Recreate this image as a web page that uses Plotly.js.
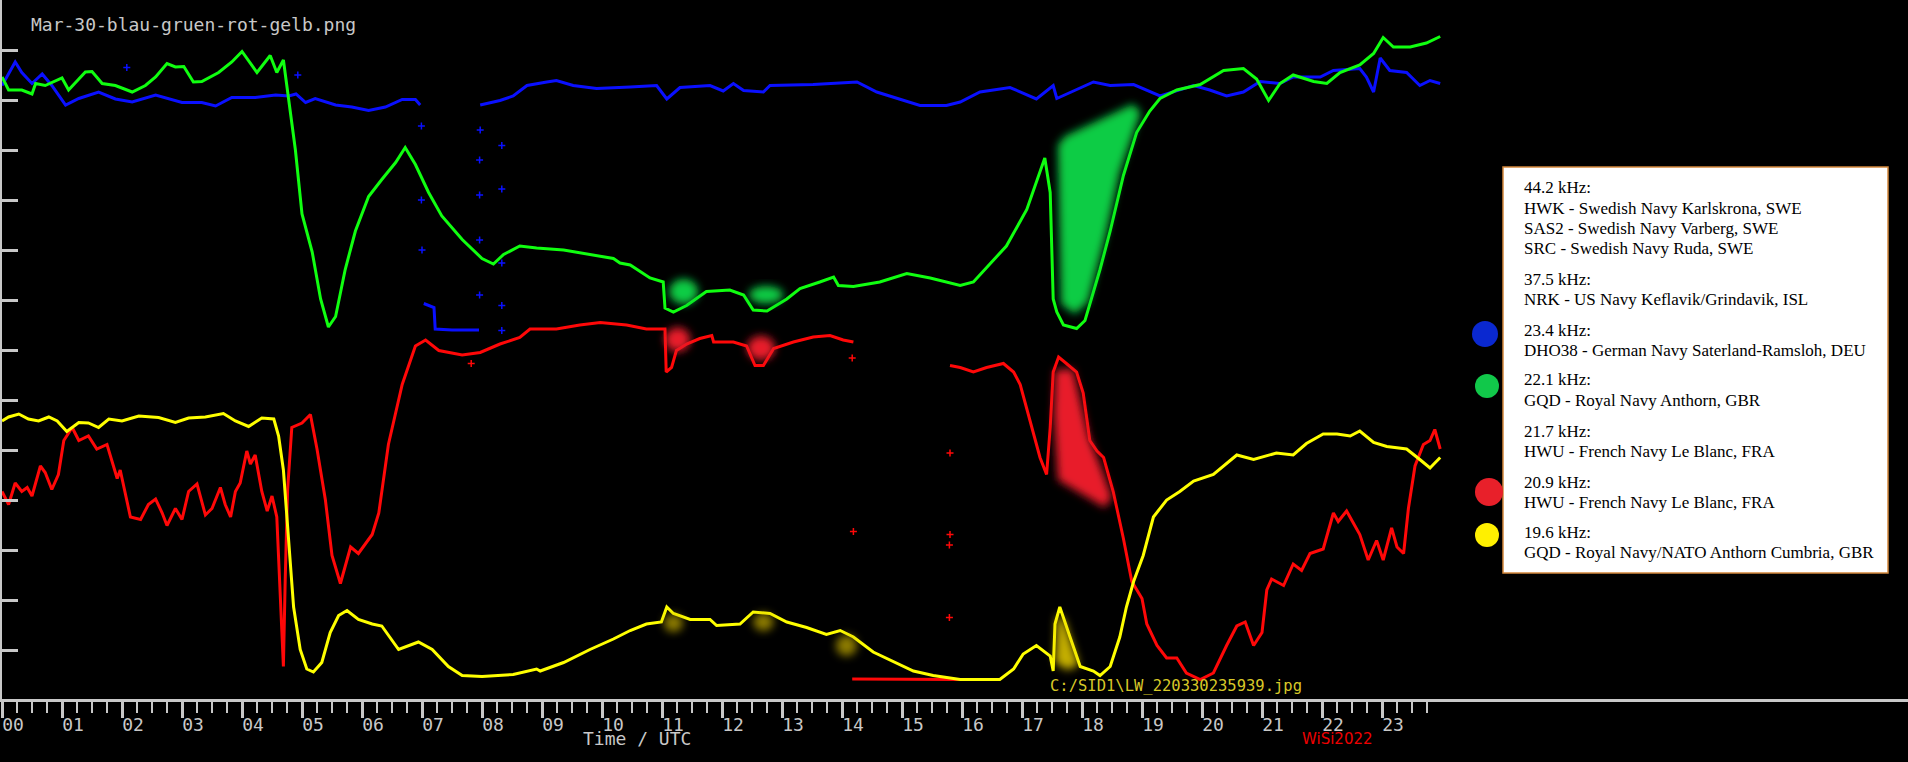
<!DOCTYPE html>
<html><head><meta charset="utf-8">
<script src="https://cdn.plot.ly/plotly-3.0.1.min.js"></script>
<style>html,body{margin:0;padding:0;background:#000;overflow:hidden}</style>
</head><body>
<svg width="0" height="0" style="position:absolute"><defs>
<filter id="blr" x="-40%" y="-40%" width="180%" height="180%"><feGaussianBlur stdDeviation="4"/></filter>
</defs></svg>
<div id="chart" style="width:1908px;height:762px"></div>
<script>
// ---- data (hours UTC, signal level in tick units) ----
const blueX = [0,0.22,0.33,0.5,0.67,0.83,1.06,1.28,1.61,1.89,2.17,2.56,3.0,3.33,3.56,3.83,4.22,4.56,4.78,4.9,5.06,5.22,5.56,5.83,6.11,6.39,6.67,6.89,6.97,null,7.03,7.2,7.22,7.5,7.8,7.95,null,7.97,8.3,8.52,8.75,9.08,9.24,9.52,9.91,10.47,10.91,11.08,11.3,11.8,12.02,12.19,12.36,12.69,12.8,13.52,14.25,14.58,14.91,15.3,15.74,15.97,16.3,16.8,17.24,17.52,17.58,17.91,18.19,18.47,18.86,19.3,19.86,20.13,20.41,20.69,20.97,21.3,21.52,21.97,22.19,22.63,22.74,22.86,22.97,23.13,23.41,23.63,23.8,23.97];
const blueY = [12.29,12.76,12.55,12.33,12.52,12.29,11.90,12.03,12.16,12.02,11.96,12.10,11.95,11.95,11.88,12.05,12.05,12.10,12.08,12.12,11.95,12.03,11.90,11.86,11.79,11.86,12.01,12.01,11.90,null,7.93,7.85,7.42,7.40,7.40,7.40,null,11.90,11.99,12.08,12.29,12.36,12.39,12.29,12.23,12.26,12.29,12.02,12.25,12.29,12.18,12.33,12.19,12.16,12.29,12.31,12.36,12.16,12.03,11.89,11.89,11.96,12.16,12.25,12.02,12.29,12.03,12.20,12.36,12.29,12.31,12.08,12.29,12.20,12.08,12.16,12.37,12.33,12.46,12.46,12.59,12.63,12.46,12.16,12.84,12.59,12.55,12.29,12.39,12.33];

const greenX = [0,0.11,0.33,0.5,0.56,0.72,1.0,1.11,1.39,1.5,1.67,1.89,2.17,2.39,2.56,2.75,2.89,3.03,3.19,3.33,3.61,3.83,4.0,4.25,4.47,4.58,4.69,4.78,4.89,5.0,5.17,5.31,5.44,5.56,5.72,5.89,6.11,6.33,6.56,6.72,6.89,7.11,7.33,7.67,8.0,8.19,8.36,8.63,8.91,9.36,9.8,10.19,10.3,10.47,10.8,11.02,11.05,11.19,11.41,11.74,12.13,12.36,12.52,12.75,13.08,13.3,13.63,13.86,13.94,14.19,14.63,15.08,15.47,15.97,16.19,16.52,16.74,17.08,17.3,17.38,17.47,17.52,17.58,17.69,17.91,18.05,18.3,18.47,18.69,18.91,19.13,19.3,19.58,19.97,20.36,20.69,20.91,21.11,21.3,21.52,21.86,22.08,22.3,22.63,22.86,23.02,23.19,23.47,23.74,23.97];
const greenY = [12.46,12.20,12.20,12.12,12.33,12.29,12.44,12.20,12.56,12.57,12.33,12.29,12.16,12.29,12.46,12.73,12.66,12.67,12.36,12.37,12.55,12.76,12.97,12.55,12.89,12.55,12.80,12.03,11.00,9.72,8.96,8.02,7.46,7.67,8.61,9.38,10.07,10.41,10.75,11.05,10.71,10.15,9.68,9.21,8.83,8.72,8.91,9.08,9.04,9.00,8.91,8.83,8.74,8.70,8.44,8.36,7.84,7.76,7.89,8.17,8.20,8.10,7.80,7.78,8.02,8.23,8.36,8.46,8.29,8.27,8.36,8.53,8.44,8.29,8.36,8.78,9.08,9.81,10.58,10.84,10.15,8.02,7.76,7.50,7.43,7.59,8.61,9.38,10.49,11.35,11.78,12.03,12.20,12.31,12.59,12.63,12.42,11.99,12.33,12.50,12.37,12.33,12.55,12.70,12.93,13.25,13.06,13.06,13.14,13.27];

const redX = [0,0.11,0.22,0.33,0.42,0.5,0.64,0.72,0.83,0.94,1.03,1.17,1.28,1.44,1.58,1.75,1.92,1.97,2.14,2.31,2.44,2.56,2.67,2.75,2.89,3.0,3.11,3.25,3.39,3.5,3.64,3.72,3.81,3.89,3.97,4.08,4.14,4.22,4.33,4.42,4.5,4.58,4.63,4.67,4.69,4.72,4.76,4.83,5.0,5.14,5.25,5.39,5.5,5.64,5.81,5.94,6.06,6.17,6.28,6.44,6.67,6.89,7.06,7.28,7.67,7.97,8.3,8.63,8.8,9.24,9.63,9.97,10.41,10.74,11.05,11.07,11.16,11.24,11.41,11.63,11.83,11.86,12.19,12.41,12.55,12.69,12.86,13.19,13.52,13.8,14.02,14.19,null,14.17,14.6,15.0,15.4,15.97,null,15.8,15.97,16.19,16.41,16.69,16.86,16.97,17.13,17.3,17.41,17.47,17.52,17.61,17.74,17.91,18.02,18.13,18.25,18.36,18.52,18.69,18.83,19.0,19.08,19.25,19.41,19.58,19.74,19.97,20.19,20.41,20.58,20.72,20.86,21.0,21.08,21.16,21.36,21.52,21.66,21.8,22.02,22.19,22.27,22.41,22.63,22.77,22.91,23.02,23.16,23.25,23.36,23.44,23.55,23.69,23.8,23.88,23.97];
const redY = [4.17,3.91,4.34,4.17,4.25,4.08,4.68,4.55,4.21,4.51,5.19,5.45,5.19,5.28,5.02,5.11,4.43,4.60,3.66,3.61,3.91,4.02,3.74,3.49,3.83,3.61,4.17,4.32,3.70,3.83,4.25,3.91,3.66,4.17,4.34,4.98,4.72,4.90,4.17,3.78,4.08,3.66,2.30,1.20,0.67,2.40,4.20,5.45,5.54,5.71,5.02,4.00,2.89,2.33,3.06,2.93,3.14,3.31,3.74,5.11,6.31,7.08,7.20,6.99,6.90,6.95,7.12,7.25,7.42,7.42,7.50,7.55,7.50,7.42,7.42,6.56,6.65,6.99,7.12,7.23,7.29,7.16,7.16,7.08,6.69,6.69,7.03,7.16,7.26,7.29,7.20,7.16,null,0.42,0.42,0.41,0.41,0.41,null,6.69,6.65,6.56,6.65,6.73,6.56,6.31,5.62,4.85,4.51,5.45,6.56,6.86,6.73,6.56,6.14,5.19,4.98,4.85,4.17,3.23,2.37,2.03,1.52,1.09,0.84,0.84,0.54,0.41,0.54,1.09,1.48,1.56,1.09,1.35,2.20,2.42,2.29,2.72,2.59,2.93,3.02,3.74,3.57,3.78,3.31,2.80,3.19,2.80,3.44,3.06,2.93,3.83,4.68,5.11,5.19,5.41,5.02];

const yellowX = [0,0.11,0.28,0.44,0.61,0.78,0.92,1.08,1.28,1.44,1.61,1.78,2.0,2.28,2.61,2.89,3.11,3.39,3.69,3.89,4.11,4.33,4.53,4.61,4.69,4.78,4.86,4.97,5.08,5.19,5.33,5.47,5.61,5.75,5.94,6.17,6.33,6.61,6.78,6.94,7.17,7.44,7.67,8.0,8.52,8.91,8.97,9.36,9.8,10.19,10.47,10.74,10.99,11.08,11.19,11.47,11.8,11.91,12.3,12.52,12.8,13.08,13.41,13.74,13.97,14.19,14.52,14.86,15.19,15.52,15.97,16.63,16.86,17.02,17.24,17.47,17.52,17.55,17.63,17.8,17.97,18.19,18.3,18.47,18.63,18.74,18.86,19.02,19.19,19.41,19.63,19.86,20.19,20.58,20.86,21.24,21.52,21.74,22.02,22.25,22.47,22.63,22.86,23.08,23.41,23.63,23.8,23.97];
const yellowY = [5.58,5.66,5.72,5.62,5.58,5.66,5.58,5.37,5.55,5.54,5.45,5.62,5.58,5.68,5.65,5.55,5.64,5.66,5.73,5.58,5.47,5.64,5.62,5.28,4.60,3.14,1.86,1.01,0.62,0.56,0.75,1.35,1.69,1.79,1.61,1.52,1.48,1.01,1.09,1.16,1.01,0.67,0.49,0.47,0.51,0.62,0.58,0.75,1.01,1.22,1.39,1.52,1.56,1.86,1.73,1.61,1.61,1.49,1.52,1.76,1.73,1.56,1.45,1.31,1.39,1.26,0.96,0.77,0.58,0.49,0.41,0.41,0.62,0.92,1.09,0.88,0.58,1.52,1.86,1.26,0.67,0.58,0.49,0.67,1.26,1.86,2.37,2.89,3.66,4.00,4.17,4.38,4.51,4.90,4.81,4.94,4.90,5.13,5.32,5.32,5.28,5.38,5.15,5.07,5.02,4.81,4.64,4.85];

// isolated stray samples (incl. the sparse samples of fast transitions)
const blueStrayX = [2.08,4.93,6.99,6.99,7.0,8.33,8.33,8.33,8.33,8.33,7.96,7.96,7.96,7.96,7.97];
const blueStrayY = [12.65,12.50,11.48,10.00,9.0,11.09,10.22,8.74,7.89,7.39,8.1,9.2,10.1,10.8,11.4];
const redStrayX = [7.82,14.17,14.19,15.8,15.8,15.79,15.79];
const redStrayY = [6.73,6.84,3.37,4.94,3.31,3.10,1.65];

// axis ticks and labels
const hourTicks = [];
const hourLabels = [];
for (let h = 0; h <= 23; h++) { hourTicks.push(h); hourLabels.push(String(h).padStart(2, '0')); }
const quarterTicks = [];
for (let q = 1; q < 96; q++) { if (q % 4) quarterTicks.push(q / 4); }
const levelTicks = [1,2,3,4,5,6,7,8,9,10,11,12,13];

const stations = [
  ['44.2 kHz:', 'HWK - Swedish Navy Karlskrona, SWE', 'SAS2 - Swedish Navy Varberg, SWE', 'SRC - Swedish Navy Ruda, SWE'],
  ['37.5 kHz:', 'NRK - US Navy Keflavik/Grindavik, ISL'],
  ['23.4 kHz:', 'DHO38 - German Navy Saterland-Ramsloh, DEU'],
  ['22.1 kHz:', 'GQD - Royal Navy Anthorn, GBR'],
  ['21.7 kHz:', 'HWU - French Navy Le Blanc, FRA'],
  ['20.9 kHz:', 'HWU - French Navy Le Blanc, FRA'],
  ['19.6 kHz:', 'GQD - Royal Navy/NATO Anthorn Cumbria, GBR']
];

// ---- layout helpers (pixel -> paper) ----
const PL = 2, PW = 1906, PH = 699;
const px = v => (v - PL) / PW;
const py = v => 1 - v / PH;

const GREY = '#c8c8c8';
const MONO = 'DejaVu Sans Mono, monospace';

function line(x, y, color) {
  return {x: x, y: y, type: 'scatter', mode: 'lines', connectgaps: false,
          line: {color: color, width: 3}, hoverinfo: 'skip', showlegend: false};
}
function stray(x, y, color) {
  return {x: x, y: y, type: 'scatter', mode: 'markers',
          marker: {symbol: 'cross-thin-open', size: 5, color: color, line: {color: color, width: 1.5}},
          hoverinfo: 'skip', showlegend: false};
}
const traces = [
  line(blueX, blueY, '#0a10ff'),
  line(greenX, greenY, '#10ff10'),
  line(redX, redY, '#ff0808'),
  line(yellowX, yellowY, '#ffff00'),
  stray(blueStrayX, blueStrayY, '#0a10ff'),
  stray(redStrayX, redStrayY, '#ff0808')
];

const shapes = [];
const blobIdx = [];
function blob(s) { blobIdx.push(shapes.length); shapes.push(Object.assign({xref: 'x', yref: 'y', layer: 'above', line: {width: 0}}, s)); }
// painted highlights
blob({type: 'path', path: 'M17.6,11.1 L17.72,11.28 L18.85,11.92 L18.98,11.75 L18.63,10.55 L18.4,9.3 L18.1,7.95 L17.88,7.72 L17.65,7.92 Z', fillcolor: '#0fcc44'});
blob({type: 'path', path: 'M17.55,6.6 L17.85,6.62 L18.12,5.25 L18.35,4.55 L18.5,4.05 L18.38,3.85 L17.6,4.4 L17.53,5.7 Z', fillcolor: '#e81c2c'});
blob({type: 'path', path: 'M17.58,1.7 L17.7,1.62 L17.95,0.7 L17.75,0.6 L17.55,0.75 Z', fillcolor: 'rgba(230,205,0,0.85)'});
blob({type: 'circle', x0: 11.12, x1: 11.6, y0: 7.92, y1: 8.42, fillcolor: '#0fcc44'});
blob({type: 'circle', x0: 12.45, x1: 13.02, y0: 7.93, y1: 8.28, fillcolor: '#0fcc44'});
blob({type: 'circle', x0: 11.05, x1: 11.47, y0: 6.97, y1: 7.45, fillcolor: '#e81c2c'});
blob({type: 'circle', x0: 12.42, x1: 12.88, y0: 6.8, y1: 7.28, fillcolor: '#e81c2c'});
blob({type: 'circle', x0: 11.03, x1: 11.35, y0: 1.36, y1: 1.72, fillcolor: 'rgba(200,175,0,0.7)'});
blob({type: 'circle', x0: 12.52, x1: 12.86, y0: 1.38, y1: 1.74, fillcolor: 'rgba(200,175,0,0.7)'});
blob({type: 'circle', x0: 13.9, x1: 14.25, y0: 0.88, y1: 1.3, fillcolor: 'rgba(200,175,0,0.7)'});

// info box
shapes.push({type: 'rect', xref: 'paper', yref: 'paper', x0: px(1503), x1: px(1888), y0: py(573), y1: py(167),
             fillcolor: '#ffffff', line: {color: '#d4883c', width: 1.5}, layer: 'above'});
// coloured markers beside the box
const dots = [[1485, 334, 13, '#0a28d0'], [1487, 386, 12, '#11c84a'], [1489, 492, 14, '#e8202a'], [1487, 535, 12, '#fff000']];
dots.forEach(d => shapes.push({type: 'circle', xref: 'paper', yref: 'paper', x0: px(d[0] - d[2]), x1: px(d[0] + d[2]),
  y0: py(d[1] + d[2]), y1: py(d[1] - d[2]), fillcolor: d[3], line: {width: 0}, layer: 'above'}));

const annotations = [];
const groupTop = [188, 279, 330, 380, 431, 482, 532];
stations.forEach((g, gi) => g.forEach((t, li) => annotations.push({
  xref: 'paper', yref: 'paper', x: px(1522), y: py(groupTop[gi] + li * 20.3), xanchor: 'left', yanchor: 'middle',
  text: t, showarrow: false, font: {family: 'Liberation Serif, Times New Roman, serif', size: 17, color: '#000'}
})));
annotations.push({xref: 'paper', yref: 'paper', x: px(581), y: py(738), xanchor: 'left', yanchor: 'middle',
  text: 'Time / UTC', showarrow: false, font: {family: MONO, size: 18, color: GREY}});
annotations.push({xref: 'paper', yref: 'paper', x: px(1300), y: py(739), xanchor: 'left', yanchor: 'middle',
  text: 'WiSi2022', showarrow: false, font: {family: 'DejaVu Sans', size: 15, color: '#ee0000'}});
annotations.push({xref: 'paper', yref: 'paper', x: px(1048), y: py(686), xanchor: 'left', yanchor: 'middle',
  text: 'C:/SID1\\LW_220330235939.jpg', showarrow: false, font: {family: MONO, size: 15.5, color: '#d8c828'}});

const layout = {
  width: 1908, height: 762,
  margin: {l: PL, r: 0, t: 0, b: 762 - PH},
  paper_bgcolor: '#000', plot_bgcolor: '#000',
  showlegend: false,
  title: {text: 'Mar-30-blau-gruen-rot-gelb.png', xref: 'container', yref: 'container', x: 31 / 1908, xanchor: 'left',
          y: 1 - 25 / 762, yanchor: 'middle', font: {family: MONO, size: 18, color: GREY}},
  xaxis: {range: [0, PW / 60], showgrid: false, zeroline: false, showline: true, linecolor: GREY, linewidth: 3,
          ticks: 'outside', ticklen: 16, tickwidth: 3, tickcolor: GREY,
          tickmode: 'array', tickvals: hourTicks, ticktext: hourLabels,
          tickfont: {family: MONO, size: 18, color: GREY}, ticklabelshift: 11, ticklabelstandoff: -9,
          minor: {tickmode: 'array', tickvals: quarterTicks, ticks: 'outside', ticklen: 11, tickwidth: 2, tickcolor: GREY, showgrid: false},
          fixedrange: true},
  yaxis: {range: [(700 - PH) / 50, 14], showgrid: false, zeroline: false, showline: true, linecolor: GREY, linewidth: 3,
          ticks: 'inside', ticklen: 16, tickwidth: 3, tickcolor: GREY, tickmode: 'array', tickvals: levelTicks,
          showticklabels: false, fixedrange: true},
  shapes: shapes, annotations: annotations
};

Plotly.newPlot('chart', traces, layout, {displayModeBar: false, staticPlot: true}).then(gd => {
  const apply = () => {
    gd.querySelectorAll('.shapelayer path').forEach(p => {
      const i = +p.getAttribute('data-index');
      if (blobIdx.indexOf(i) >= 0) p.style.filter = 'url(#blr)';
    });
  };
  apply();
  gd.on && gd.on('plotly_afterplot', apply);
});
</script>
</body></html>
